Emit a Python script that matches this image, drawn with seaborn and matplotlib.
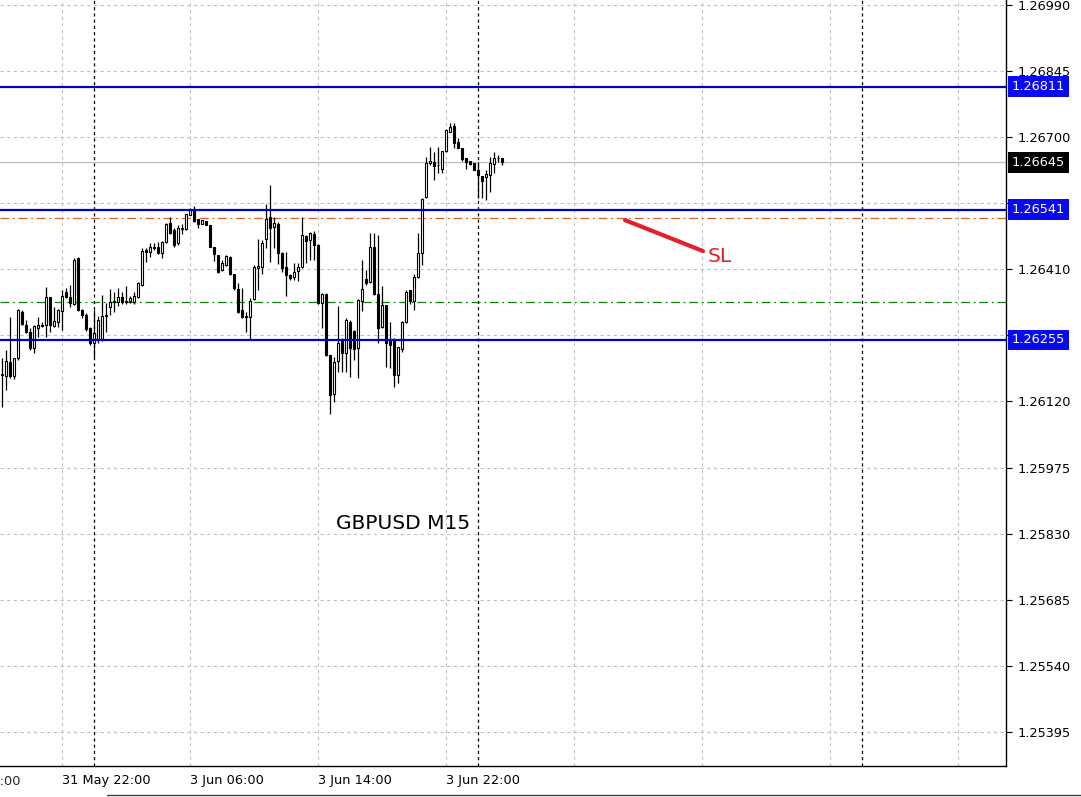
import numpy as np
import seaborn as sns
import matplotlib
matplotlib.use("Agg")
import matplotlib.pyplot as plt
import matplotlib.transforms as mtransforms
from matplotlib.lines import Line2D

# GBPUSD M15 bars (first bar ~ 31 May 18:15)
opens = [1.26178, 1.26176, 1.26207, 1.26176, 1.26215, 1.26316, 1.26288, 1.26273, 1.26237, 1.26281,
         1.26288, 1.26288, 1.26349, 1.26286, 1.26294, 1.26319, 1.26360, 1.26349, 1.26334, 1.26435,
         1.26321, 1.26310, 1.26281, 1.26248, 1.26257, 1.26257, 1.26308, 1.26327, 1.26338, 1.26338,
         1.26349, 1.26338, 1.26341, 1.26338, 1.26349, 1.26376, 1.26452, 1.26448, 1.26457, 1.26459,
         1.26446, 1.26470, 1.26512, 1.26496, 1.26468, 1.26499, 1.26499, 1.26529, 1.26543, 1.26520,
         1.26510, 1.26516, 1.26507, 1.26459, 1.26441, 1.26409, 1.26420, 1.26437, 1.26400, 1.26367,
         1.26321, 1.26308, 1.26305, 1.26345, 1.26413, 1.26415, 1.26477, 1.26525, 1.26503, 1.26510,
         1.26446, 1.26415, 1.26398, 1.26393, 1.26406, 1.26415, 1.26483, 1.26474, 1.26488, 1.26463,
         1.26336, 1.26356, 1.26222, 1.26137, 1.26209, 1.26255, 1.26226, 1.26294, 1.26275, 1.26237,
         1.26341, 1.26389, 1.26382, 1.26459, 1.26356, 1.26284, 1.26332, 1.26255, 1.26257, 1.26178,
         1.26235, 1.26294, 1.26365, 1.26341, 1.26393, 1.26446, 1.26569, 1.26643, 1.26646, 1.26639,
         1.26630, 1.26670, 1.26711, 1.26725, 1.26690, 1.26676, 1.26654, 1.26648, 1.26643, 1.26628,
         1.26615, 1.26613, 1.26617, 1.26641, 1.26654, 1.26654]
closes = [1.26180, 1.26209, 1.26176, 1.26215, 1.26321, 1.26290, 1.26273, 1.26237, 1.26286, 1.26288,
          1.26286, 1.26349, 1.26288, 1.26297, 1.26321, 1.26352, 1.26349, 1.26336, 1.26431, 1.26321,
          1.26310, 1.26279, 1.26248, 1.26270, 1.26299, 1.26308, 1.26310, 1.26338, 1.26341, 1.26349,
          1.26338, 1.26341, 1.26347, 1.26352, 1.26380, 1.26450, 1.26448, 1.26459, 1.26459, 1.26446,
          1.26470, 1.26510, 1.26490, 1.26463, 1.26501, 1.26501, 1.26532, 1.26540, 1.26516, 1.26510,
          1.26518, 1.26507, 1.26459, 1.26444, 1.26404, 1.26424, 1.26439, 1.26400, 1.26369, 1.26316,
          1.26305, 1.26305, 1.26341, 1.26415, 1.26417, 1.26468, 1.26520, 1.26501, 1.26512, 1.26446,
          1.26413, 1.26398, 1.26391, 1.26404, 1.26415, 1.26485, 1.26472, 1.26490, 1.26463, 1.26336,
          1.26356, 1.26222, 1.26134, 1.26207, 1.26248, 1.26226, 1.26299, 1.26237, 1.26235, 1.26343,
          1.26367, 1.26380, 1.26459, 1.26356, 1.26281, 1.26332, 1.26248, 1.26244, 1.26178, 1.26240,
          1.26294, 1.26360, 1.26341, 1.26393, 1.26446, 1.26564, 1.26643, 1.26648, 1.26637, 1.26640,
          1.26670, 1.26716, 1.26722, 1.26687, 1.26676, 1.26652, 1.26646, 1.26641, 1.26628, 1.26617,
          1.26604, 1.26619, 1.26643, 1.26654, 1.26655, 1.26645]
highs = [1.26215, 1.26233, 1.26305, 1.26215, 1.26323, 1.26321, 1.26299, 1.26281, 1.26288, 1.26305,
         1.26294, 1.26371, 1.26349, 1.26327, 1.26323, 1.26365, 1.26369, 1.26376, 1.26435, 1.26437,
         1.26323, 1.26314, 1.26284, 1.26321, 1.26308, 1.26354, 1.26336, 1.26367, 1.26360, 1.26369,
         1.26360, 1.26373, 1.26352, 1.26360, 1.26382, 1.26457, 1.26457, 1.26468, 1.26468, 1.26470,
         1.26472, 1.26512, 1.26525, 1.26501, 1.26507, 1.26510, 1.26532, 1.26545, 1.26549, 1.26520,
         1.26518, 1.26516, 1.26507, 1.26459, 1.26441, 1.26431, 1.26441, 1.26439, 1.26400, 1.26380,
         1.26369, 1.26316, 1.26347, 1.26420, 1.26477, 1.26474, 1.26553, 1.26595, 1.26525, 1.26514,
         1.26448, 1.26448, 1.26400, 1.26424, 1.26424, 1.26525, 1.26485, 1.26492, 1.26494, 1.26466,
         1.26358, 1.26358, 1.26222, 1.26218, 1.26330, 1.26259, 1.26303, 1.26299, 1.26277, 1.26345,
         1.26431, 1.26409, 1.26490, 1.26490, 1.26485, 1.26373, 1.26332, 1.26294, 1.26259, 1.26240,
         1.26297, 1.26365, 1.26365, 1.26400, 1.26490, 1.26567, 1.26657, 1.26679, 1.26667, 1.26679,
         1.26670, 1.26718, 1.26731, 1.26731, 1.26698, 1.26676, 1.26654, 1.26648, 1.26643, 1.26646,
         1.26615, 1.26628, 1.26657, 1.26667, 1.26661, 1.26654]
lows = [1.26108, 1.26145, 1.26172, 1.26170, 1.26211, 1.26288, 1.26270, 1.26233, 1.26226, 1.26262,
        1.26284, 1.26262, 1.26273, 1.26284, 1.26284, 1.26277, 1.26347, 1.26327, 1.26332, 1.26319,
        1.26303, 1.26275, 1.26244, 1.26218, 1.26248, 1.26253, 1.26273, 1.26310, 1.26316, 1.26330,
        1.26334, 1.26334, 1.26336, 1.26334, 1.26347, 1.26373, 1.26426, 1.26437, 1.26452, 1.26444,
        1.26435, 1.26468, 1.26488, 1.26459, 1.26463, 1.26488, 1.26496, 1.26529, 1.26514, 1.26501,
        1.26510, 1.26507, 1.26459, 1.26428, 1.26402, 1.26406, 1.26417, 1.26398, 1.26365, 1.26314,
        1.26303, 1.26273, 1.26257, 1.26343, 1.26365, 1.26400, 1.26457, 1.26426, 1.26457, 1.26422,
        1.26404, 1.26352, 1.26387, 1.26387, 1.26384, 1.26413, 1.26424, 1.26431, 1.26431, 1.26334,
        1.26281, 1.26220, 1.26093, 1.26119, 1.26185, 1.26185, 1.26185, 1.26174, 1.26211, 1.26172,
        1.26319, 1.26376, 1.26380, 1.26354, 1.26248, 1.26281, 1.26196, 1.26194, 1.26152, 1.26161,
        1.26229, 1.26292, 1.26334, 1.26321, 1.26391, 1.26420, 1.26567, 1.26639, 1.26606, 1.26621,
        1.26621, 1.26667, 1.26711, 1.26676, 1.26676, 1.26648, 1.26630, 1.26639, 1.26628, 1.26567,
        1.26567, 1.26562, 1.26580, 1.26621, 1.26646, 1.26639]

# axis labels
price_ticks = [1.26990, 1.26845, 1.26700, 1.26555, 1.26410, 1.26265, 1.26120,
               1.25975, 1.25830, 1.25685, 1.25540, 1.25395]
time_tick_bars = [-17, 15, 47, 79, 111]
time_tick_labels = ["31 May 14:00", "31 May 22:00", "3 Jun 06:00", "3 Jun 14:00", "3 Jun 22:00"]
grid_bars = [15, 47, 79, 111, 143, 175, 207, 239]
day_separators = [23, 119, 215]

# horizontal levels
blue_levels = [1.26811, 1.26541, 1.26255]
bid_price = 1.26645
orange_level = 1.26523
green_level = 1.26338

# SL arrow drawn on chart
sl_x = [155.75, 175.25]
sl_y = [1.26518, 1.26450]

sns.set_style("white")
plt.rcParams["font.family"] = ["DejaVu Sans"]

fig = plt.figure(figsize=(10.81, 7.97), dpi=100)
ax = fig.add_axes([0, 31 / 797, 1006 / 1081, 766 / 797])

x = np.arange(len(opens))
o = np.array(opens)
c = np.array(closes)
h = np.array(highs)
l = np.array(lows)

# grid
for p in price_ticks:
    ax.axhline(p, color="#c0c0c0", lw=0.8, ls=(0, (3, 3)), zorder=0)
for g in grid_bars:
    ax.axvline(g, color="#c0c0c0", lw=0.8, ls=(0, (3, 3)), zorder=0)
for d in day_separators:
    ax.axvline(d, color="black", lw=0.9, ls=(0, (2.5, 2.5)), zorder=0.5)

# candles
ax.vlines(x, l, h, color="black", lw=0.9, zorder=2)
up = c >= o
ax.bar(x[up], (c - o)[up], bottom=o[up], width=0.6, color="white",
       edgecolor="black", linewidth=0.8, zorder=3)
ax.bar(x[~up], (o - c)[~up], bottom=c[~up], width=0.6, color="black",
       edgecolor="black", linewidth=0.8, zorder=3)

# level lines
ax.axhline(bid_price, color="#c0c0c0", lw=1.0, zorder=1)
ax.axhline(orange_level, color="#e0601c", lw=0.9, ls=(0, (7, 3, 1.5, 3)), zorder=1)
ax.axhline(green_level, color="#0a820a", lw=0.9, ls=(0, (7, 3, 1.5, 3)), zorder=1)
for lv in blue_levels:
    ax.axhline(lv, color="#0000c8", lw=1.6, zorder=4)

ax.set_xlim(-0.5, 251)
ax.set_ylim(1.25320, 1.27001)

# axes look
for s in ["left", "top"]:
    ax.spines[s].set_visible(False)
for s in ["right", "bottom"]:
    ax.spines[s].set_color("black")
    ax.spines[s].set_linewidth(1.0)

ax.yaxis.tick_right()
ax.set_yticks(price_ticks)
ax.set_yticklabels([f"{p:.5f}" for p in price_ticks])
ax.tick_params(axis="y", which="both", direction="out", length=4, width=0.8,
               pad=4, labelsize=9.3, colors="black")

ax.set_xticks(time_tick_bars[1:])
ax.set_xticklabels(time_tick_labels[1:], ha="left")
ax.tick_params(axis="x", direction="out", length=4, width=0.8, pad=2,
               labelsize=9.3, colors="black")
trans_x = mtransforms.blended_transform_factory(ax.transData, ax.transAxes)
ax.text(time_tick_bars[0] - 0.5, -0.0115, time_tick_labels[0], transform=trans_x,
        ha="left", va="top", fontsize=9.3, clip_on=False)

# price boxes on the right scale
trans_y = mtransforms.blended_transform_factory(ax.transAxes, ax.transData)
box_kw = dict(transform=trans_y, ha="left", va="center", fontsize=9.3,
              color="white", clip_on=False, zorder=10)
for lv in blue_levels:
    ax.text(1.0055, lv, f"{lv:.5f}", **box_kw,
            bbox=dict(boxstyle="square,pad=0.3", fc="#0a0af0", ec="none"))
ax.text(1.0055, bid_price, f"{bid_price:.5f}", **box_kw,
        bbox=dict(boxstyle="square,pad=0.3", fc="black", ec="none"))

# title and SL mark
ax.text(0.4006, 0.316, "GBPUSD M15", transform=ax.transAxes, ha="center",
        va="center", fontsize=14.5, color="black")
ax.plot(sl_x, sl_y, color="#e0202a", lw=3, solid_capstyle="round", zorder=5)
ax.text(sl_x[1] + 1.2, sl_y[1] - 0.00012, "SL", ha="left", va="center",
        fontsize=14.5, color="#e0202a")

# window frame at the bottom
fig.add_artist(Line2D([107 / 1081, 1], [2 / 797, 2 / 797], color="#404040", lw=1.0))

fig.savefig("out.png", dpi=100)
